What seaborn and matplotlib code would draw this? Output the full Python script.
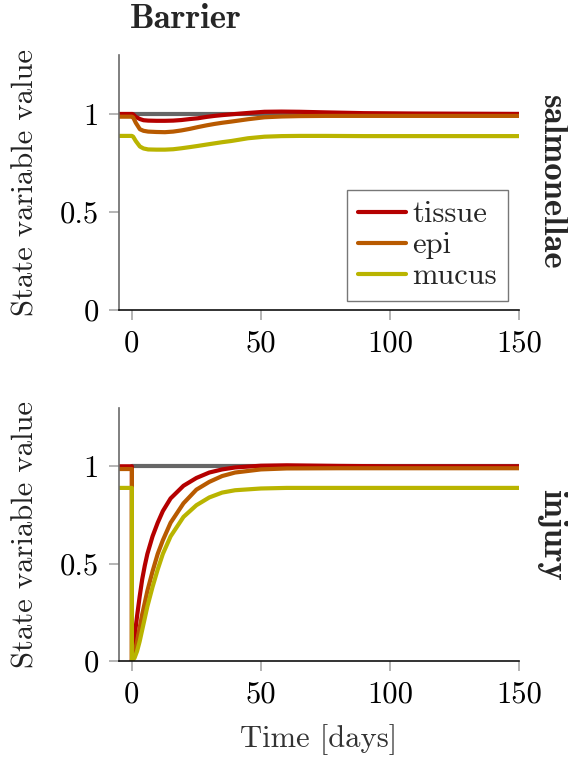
import matplotlib
matplotlib.use("Agg")
import matplotlib.pyplot as plt
import seaborn as sns
import pandas as pd
from matplotlib.lines import Line2D

# ---------------- data ----------------
series_names = ["tissue", "epi", "mucus"]
series_colors = ["#B50000", "#B85A00", "#B9B400"]
ref_color = "#666666"

ref_t = [0, 150]
ref_v = [1.0, 1.0]

# salmonellae panel
sal_t = [-5, 0, 0.5, 1.5, 3.1, 4.5, 6.3, 9.5, 12.8, 16.0, 19.2, 22.5, 25.6, 29.0, 32.0, 35.0,
         38.5, 45.0, 51.4, 58.0, 65.0, 75.0, 90.0, 110.0, 130.0, 150.0]
sal_tissue = [1.0, 1.0, 0.998, 0.985, 0.974, 0.968, 0.966, 0.965, 0.965, 0.966, 0.969, 0.974,
              0.978, 0.985, 0.990, 0.994, 0.998, 1.005, 1.011, 1.012, 1.011, 1.008, 1.004, 1.002,
              1.001, 1.0]
sal_epi = [0.986, 0.986, 0.982, 0.955, 0.922, 0.914, 0.910, 0.908, 0.907, 0.910, 0.916, 0.924,
           0.933, 0.942, 0.949, 0.955, 0.961, 0.973, 0.983, 0.987, 0.989, 0.990, 0.990, 0.990,
           0.990, 0.990]
sal_mucus = [0.888, 0.888, 0.884, 0.862, 0.834, 0.824, 0.819, 0.818, 0.818, 0.820, 0.825, 0.831,
             0.837, 0.844, 0.850, 0.856, 0.862, 0.876, 0.884, 0.887, 0.888, 0.888, 0.887, 0.887,
             0.887, 0.887]

# injury panel
inj_t = [-5, 0, 0, 1, 2, 3, 4, 5, 6, 8, 10, 12, 15, 20, 25, 30, 35, 40, 50, 60, 80, 100, 125, 150]
inj_tissue = [1.0, 1.0, 0.0, 0.12, 0.23, 0.33, 0.42, 0.49, 0.55, 0.64, 0.71, 0.77, 0.835, 0.90,
              0.94, 0.968, 0.984, 0.994, 1.003, 1.005, 1.002, 1.0, 1.0, 1.0]
inj_epi = [0.986, 0.986, 0.0, 0.04, 0.10, 0.17, 0.24, 0.30, 0.36, 0.46, 0.55, 0.62, 0.71, 0.81,
           0.88, 0.92, 0.95, 0.968, 0.984, 0.989, 0.990, 0.990, 0.990, 0.990]
inj_mucus = [0.889, 0.889, 0.0, 0.015, 0.05, 0.10, 0.16, 0.22, 0.28, 0.38, 0.47, 0.55, 0.64, 0.74,
             0.80, 0.84, 0.865, 0.877, 0.886, 0.889, 0.889, 0.889, 0.889, 0.889]

x_ticks = [0, 50, 100, 150]
x_tick_labels = ["0", "50", "100", "150"]
y_ticks = [0, 0.5, 1]
y_tick_labels = ["0", "0.5", "1"]

title = "Barrier"
row_labels = ["salmonellae", "injury"]
y_label = "State variable value"
x_label = "Time [days]"

# ---------------- style ----------------
sns.set_style("ticks")
plt.rcParams["font.family"] = ["cmr10", "DejaVu Serif"]
plt.rcParams["mathtext.fontset"] = "cm"
plt.rcParams["axes.formatter.use_mathtext"] = True
FS = 22
FSB = 25

fig = plt.figure(figsize=(5.68, 7.60), dpi=100)
ax_top = fig.add_axes([0.2095, 0.592, 0.704, 0.3355])
ax_bot = fig.add_axes([0.2095, 0.1303, 0.704, 0.333])


def long_df(t, tissue, epi, mucus):
    frames = []
    for name, vals in zip(series_names, [tissue, epi, mucus]):
        frames.append(pd.DataFrame({"t": t, "v": vals, "series": name}))
    return pd.concat(frames, ignore_index=True)


def draw(ax, t, tissue, epi, mucus, row_label):
    ref = pd.DataFrame({"t": ref_t, "v": ref_v})
    sns.lineplot(data=ref, x="t", y="v", color=ref_color, lw=3, ax=ax,
                 estimator=None, sort=False)
    df = long_df(t, tissue, epi, mucus)
    sns.lineplot(data=df, x="t", y="v", hue="series", hue_order=series_names,
                 palette=dict(zip(series_names, series_colors)), lw=3, ax=ax,
                 estimator=None, sort=False, legend=False)
    ax.set_xlim(-5, 150)
    ax.set_ylim(0, 1.3)
    ax.set_xticks(x_ticks)
    ax.set_xticklabels(x_tick_labels, fontsize=FS)
    ax.set_yticks(y_ticks)
    ax.set_yticklabels(y_tick_labels, fontsize=FS)
    ax.set_xlabel("")
    ax.set_ylabel(y_label, fontsize=FS, color="#222222")
    ax.yaxis.set_label_coords(-0.2, 0.5)
    for s in ["top", "right"]:
        ax.spines[s].set_visible(False)
    ax.spines["left"].set_color("#6a6a6a")
    ax.spines["left"].set_linewidth(1.2)
    ax.spines["bottom"].set_color("#111111")
    ax.spines["bottom"].set_linewidth(1.2)
    ax.tick_params(axis="both", direction="out", length=7.5, width=1.2,
                   color="#a8a8a8", labelcolor="black", pad=7)
    ax.text(1.0825, 0.5, row_label, rotation=-90, transform=ax.transAxes,
            ha="center", va="center", fontsize=FSB, fontfamily="cmb10")


draw(ax_top, sal_t, sal_tissue, sal_epi, sal_mucus, row_labels[0])
draw(ax_bot, inj_t, inj_tissue, inj_epi, inj_mucus, row_labels[1])

handles = [Line2D([], [], color=c, lw=3) for c in series_colors]
leg = ax_top.legend(handles, series_names, loc="lower right",
                    bbox_to_anchor=(0.9725, 0.035), borderaxespad=0,
                    fontsize=FS, frameon=True, fancybox=False,
                    handlelength=1.6, handletextpad=0.2, labelspacing=0.12,
                    borderpad=0.35)
leg.get_frame().set_edgecolor("#555555")
leg.get_frame().set_linewidth(1.0)

ax_bot.set_xlabel(x_label, fontsize=FS, color="#333333")
ax_bot.xaxis.set_label_coords(0.5, -0.25)

fig.text(186 / 568, 1 - 20 / 760, title, ha="center", va="center",
         fontsize=FSB, fontfamily="cmb10")

fig.savefig("out.png", dpi=100)
